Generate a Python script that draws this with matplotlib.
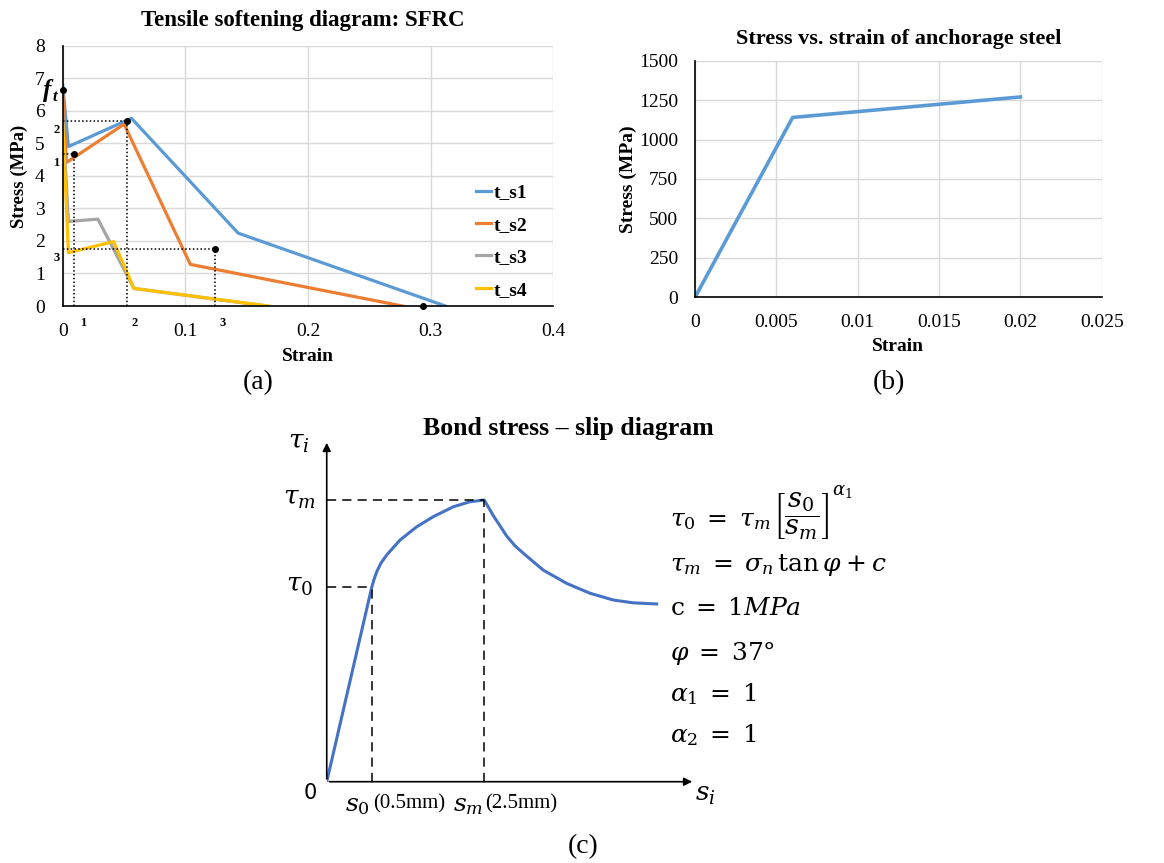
import matplotlib.pyplot as plt

plt.rcParams['font.family'] = ['Liberation Serif', 'DejaVu Serif']
plt.rcParams['mathtext.fontset'] = 'stix'

# tensile softening curves of SFRC (strain, stress in MPa)
strain_s1 = [0, 0.0046, 0.056, 0.143, 0.312]
stress_s1 = [6.8, 4.9, 5.77, 2.24, 0]
strain_s2 = [0, 0.003, 0.050, 0.104, 0.277]
stress_s2 = [6.55, 4.41, 5.59, 1.28, 0]
strain_s3 = [0, 0.0046, 0.0287, 0.058, 0.166]
stress_s3 = [5.8, 2.6, 2.67, 0.54, 0]
strain_s4 = [0, 0.0046, 0.0415, 0.058, 0.168]
stress_s4 = [5.67, 1.64, 1.98, 0.54, 0]
names = ['t_s1', 't_s2', 't_s3', 't_s4']
colors = ['#5B9BD5', '#ED7D31', '#A5A5A5', '#FFC000']

# characteristic points 1, 2, 3, f_t and end of softening
ft_stress = 6.65
pt_strain = [0.0095, 0.0525, 0.124]
pt_stress = [4.67, 5.69, 1.75]
end_strain = 0.294

# anchorage steel
steel_strain = [0, 0.006, 0.02]
steel_stress = [0, 1140, 1270]

# bond stress - slip (slip in units of s0, stress in units of tau_m)
slip = [0, 1.0, 1.05, 1.111, 1.2, 1.333, 1.629, 2.0, 2.369, 2.813, 3.184, 3.5,
        3.70, 4.0, 4.18, 4.369, 4.813, 5.333, 5.851, 6.369, 6.813, 7.333]
bond = [0, 0.690, 0.718, 0.745, 0.775, 0.805, 0.858, 0.905, 0.941, 0.976, 0.994, 1.0,
        0.945, 0.872, 0.838, 0.811, 0.751, 0.704, 0.669, 0.645, 0.635, 0.631]
s0 = 1.0
sm = 3.5
tau0 = 0.690
taum = 1.0

fig = plt.figure(figsize=(11.64, 8.63), dpi=100)

# ---------------- (a) tensile softening ----------------
ax1 = fig.add_axes([0.0539, 0.6454, 0.4215, 0.3016])
curves = [(strain_s1, stress_s1), (strain_s2, stress_s2),
          (strain_s3, stress_s3), (strain_s4, stress_s4)]
for (x, y), name, c in zip(curves, names, colors):
    ax1.plot(x, y, color=c, lw=2.3, label=name)

for x, y in zip(pt_strain, pt_stress):
    ax1.plot([0, x], [y, y], ls=(0, (1, 1.5)), color='k', lw=1.1)
    ax1.plot([x, x], [0, y], ls=(0, (1, 1.5)), color='k', lw=1.1)
    ax1.plot(x, y, 'o', color='k', ms=4, zorder=5)
ax1.plot(0, ft_stress, 'o', color='k', ms=4, zorder=5, clip_on=False)
ax1.plot(end_strain, 0, 'o', color='k', ms=4, zorder=5, clip_on=False)

ax1.set_xlim(0, 0.4)
ax1.set_ylim(0, 8)
ax1.set_xticks([0, 0.1, 0.2, 0.3, 0.4])
ax1.set_xticklabels(['0', '0.1', '0.2', '0.3', '0.4'])
ax1.set_yticks(range(0, 9))
ax1.grid(True, color='#d9d9d9', lw=1)
ax1.set_axisbelow(True)
ax1.tick_params(length=0, labelsize=14, pad=12)
ax1.tick_params(axis='y', pad=13)
for s in ['top', 'right']:
    ax1.spines[s].set_visible(False)
ax1.spines['left'].set_linewidth(1.2)
ax1.spines['bottom'].set_linewidth(1.2)
ax1.set_title('Tensile softening diagram: SFRC', fontsize=16.5, fontweight='bold',
              pad=14, x=0.49)
ax1.set_xlabel('Strain', fontsize=14, fontweight='bold', labelpad=6)
ax1.set_ylabel('Stress (MPa)', fontsize=13.5, fontweight='bold', labelpad=5)
ax1.legend(loc='upper left', bbox_to_anchor=(0.822, 0.507), frameon=False,
           handlelength=0.8, handletextpad=0.1, labelspacing=0.76, borderpad=0,
           prop={'size': 14, 'weight': 'bold'})

# f_t label beside the axis
ax1.text(-0.0125, 6.62, 'f', fontsize=18, fontstyle='italic', fontweight='bold',
         ha='center', va='center', clip_on=False)
ax1.text(-0.0062, 6.42, 't', fontsize=12, fontstyle='italic', fontweight='bold',
         ha='center', va='center', clip_on=False)
for lbl, yy in zip(['1', '2', '3'], [4.41, 5.42, 1.48]):
    ax1.text(-0.005, yy, lbl, fontsize=9, fontweight='bold', ha='center', va='center')
for lbl, xx in zip(['1', '2', '3'], [0.0166, 0.059, 0.130]):
    ax1.text(xx, -0.52, lbl, fontsize=9, fontweight='bold', ha='center', va='center')

# ---------------- (b) anchorage steel ----------------
ax2 = fig.add_axes([0.5971, 0.6555, 0.3494, 0.2742])
ax2.plot(steel_strain, steel_stress, color='#5B9BD5', lw=2.6)
ax2.set_xlim(0, 0.025)
ax2.set_ylim(0, 1500)
ax2.set_xticks([0, 0.005, 0.01, 0.015, 0.02, 0.025])
ax2.set_xticklabels(['0', '0.005', '0.01', '0.015', '0.02', '0.025'])
ax2.set_yticks([0, 250, 500, 750, 1000, 1250, 1500])
ax2.grid(True, color='#d9d9d9', lw=1)
ax2.set_axisbelow(True)
ax2.tick_params(length=0, labelsize=14, pad=12)
ax2.tick_params(axis='y', pad=12)
for s in ['top', 'right']:
    ax2.spines[s].set_visible(False)
ax2.spines['left'].set_linewidth(1.2)
ax2.spines['bottom'].set_linewidth(1.2)
ax2.set_title('Stress vs. strain of anchorage steel', fontsize=16, fontweight='bold', pad=12)
ax2.set_xlabel('Strain', fontsize=14, fontweight='bold', labelpad=5)
ax2.set_ylabel('Stress (MPa)', fontsize=14, fontweight='bold', labelpad=1.5)

# ---------------- (c) bond stress - slip ----------------
ax3 = fig.add_axes([0.2807, 0.0942, 0.3207, 0.4075])
ax3.set_xlim(0, 8.296)
ax3.set_ylim(0, 1.2485)
ax3.axis('off')
ax3.plot(slip, bond, color='#4472C4', lw=2.2, solid_joinstyle='round')
ax3.annotate('', xy=(0, 1.213), xytext=(0, 0),
             arrowprops=dict(arrowstyle='-|>', color='k', lw=1.2, mutation_scale=12))
ax3.annotate('', xy=(8.184, 0), xytext=(0, 0),
             arrowprops=dict(arrowstyle='-|>', color='k', lw=1.2, mutation_scale=12))
dash = dict(color='k', lw=1.1, ls=(0, (6, 4)))
ax3.plot([0, sm], [taum, taum], **dash)
ax3.plot([sm, sm], [0, taum], **dash)
ax3.plot([0, s0], [tau0, tau0], **dash)
ax3.plot([s0, s0], [0, tau0], **dash)

mf = 'dejavuserif'
ax3.text(-0.62, 1.2, r'$\tau_i$', fontsize=19, ha='center', va='center', math_fontfamily=mf)
ax3.text(-0.6, taum, r'$\tau_m$', fontsize=19, ha='center', va='center', math_fontfamily=mf)
ax3.text(-0.6, tau0, r'$\tau_0$', fontsize=19, ha='center', va='center', math_fontfamily=mf)
ax3.text(-0.37, -0.04, '0', fontsize=15, family='DejaVu Sans', ha='center', va='center')
ax3.text(8.41, -0.05, r'$s_i$', fontsize=19, ha='center', va='center', clip_on=False,
         math_fontfamily=mf)
ax3.text(0.96, -0.086, r'$s_0$', fontsize=18, ha='right', va='center', math_fontfamily=mf)
ax3.text(1.02, -0.08, '(0.5mm)', fontsize=15, ha='left', va='center')
ax3.text(3.48, -0.086, r'$s_m$', fontsize=18, ha='right', va='center', math_fontfamily=mf)
ax3.text(3.53, -0.08, '(2.5mm)', fontsize=15, ha='left', va='center')

fig.text(0.488, 0.503, 'Bond stress – slip diagram', fontsize=18.5, fontweight='bold',
         ha='center', va='center')

# governing relations next to the diagram
rend = fig.canvas.get_renderer()
lhs = fig.text(670 / 1164, 1 - 521 / 863, r'$\tau_0\;=\;\tau_m$', fontsize=18,
               ha='left', va='center', math_fontfamily=mf)
bb = lhs.get_window_extent(renderer=rend)
frac = fig.text((bb.x1 + 3) / fig.bbox.width, 1 - 516 / 863,
                r'$\left[\dfrac{s_0}{s_m}\right]$', fontsize=19.5, ha='left',
                va='center', math_fontfamily=mf)
fb = frac.get_window_extent(renderer=rend)
fig.text((fb.x1 + 2) / fig.bbox.width, 1 - 491 / 863, r'$\alpha_1$', fontsize=13,
         ha='left', va='center', math_fontfamily=mf)

eqs = [r'$\tau_m\;=\;\sigma_n\,\tan\varphi\:+\:c$',
       r'$\mathrm{c}\;=\;1MPa$',
       r'$\varphi\;=\;37\degree$',
       r'$\alpha_1\;=\;1$',
       r'$\alpha_2\;=\;1$']
eq_y = [565, 609, 653, 694, 735]
for e, py in zip(eqs, eq_y):
    fig.text(670 / 1164, 1 - py / 863, e, fontsize=18, ha='left', va='center',
             math_fontfamily=mf)

# panel letters
fig.text(258 / 1164, 1 - 383 / 863, '(a)', fontsize=20, ha='center', va='center')
fig.text(889 / 1164, 1 - 383 / 863, '(b)', fontsize=20, ha='center', va='center')
fig.text(583 / 1164, 1 - 847 / 863, '(c)', fontsize=20, ha='center', va='center')

fig.savefig('out.png', dpi=100)
